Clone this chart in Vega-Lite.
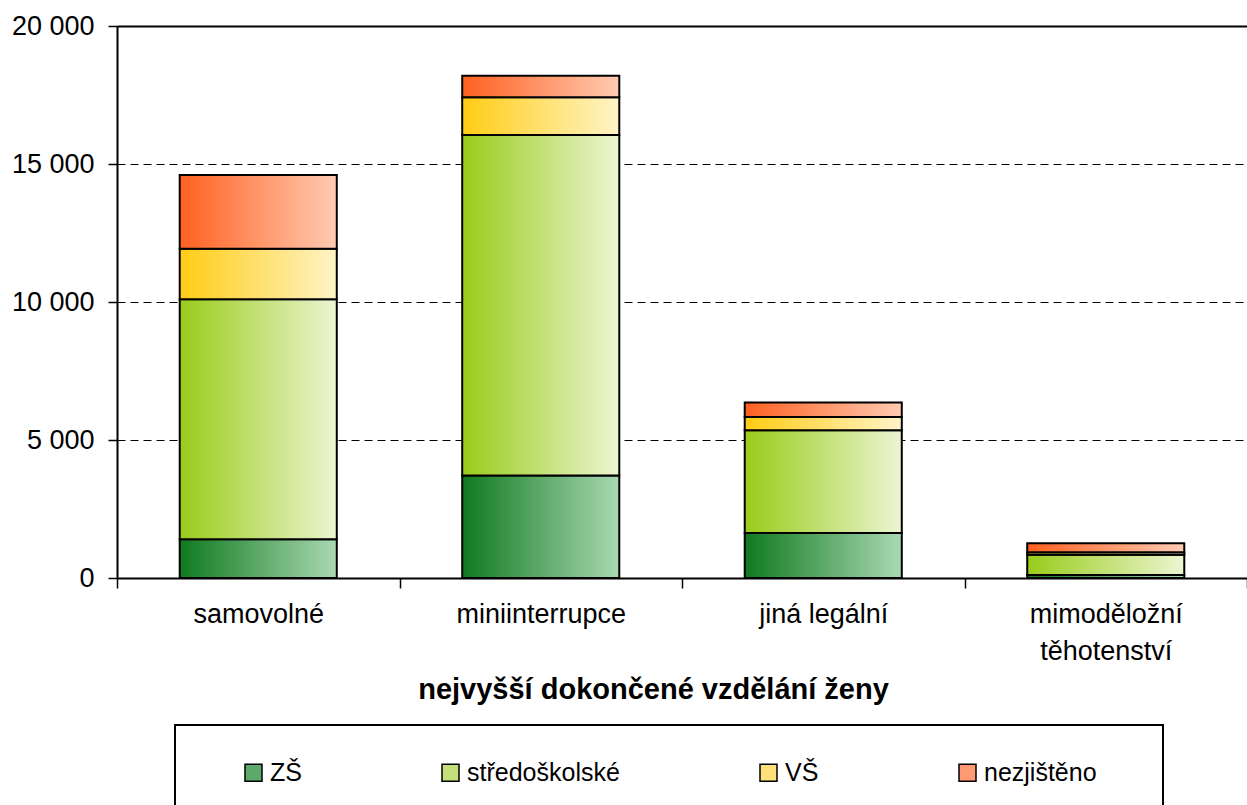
{
  "$schema": "https://vega.github.io/schema/vega-lite/v6.json",
  "width": 1130,
  "height": 552,
  "autosize": "none",
  "padding": {"left": 117, "top": 26, "right": 0, "bottom": 227},
  "background": "white",
  "config": {
    "view": {"stroke": null},
    "font": "Liberation Sans",
    "legend": {"strokeColor": "black", "strokeWidth": 2}
  },
  "data": {
    "values": [
      {"typ": "samovolné", "vzdelani": "ZŠ", "pocet": 1403},
      {"typ": "samovolné", "vzdelani": "středoškolské", "pocet": 8700},
      {"typ": "samovolné", "vzdelani": "VŠ", "pocet": 1824},
      {"typ": "samovolné", "vzdelani": "nezjištěno", "pocet": 2671},
      {"typ": "miniinterrupce", "vzdelani": "ZŠ", "pocet": 3712},
      {"typ": "miniinterrupce", "vzdelani": "středoškolské", "pocet": 12337},
      {"typ": "miniinterrupce", "vzdelani": "VŠ", "pocet": 1366},
      {"typ": "miniinterrupce", "vzdelani": "nezjištěno", "pocet": 783},
      {"typ": "jiná legální", "vzdelani": "ZŠ", "pocet": 1631},
      {"typ": "jiná legální", "vzdelani": "středoškolské", "pocet": 3723},
      {"typ": "jiná legální", "vzdelani": "VŠ", "pocet": 483},
      {"typ": "jiná legální", "vzdelani": "nezjištěno", "pocet": 522},
      {"typ": "mimoděložní těhotenství", "vzdelani": "ZŠ", "pocet": 109},
      {"typ": "mimoděložní těhotenství", "vzdelani": "středoškolské", "pocet": 736},
      {"typ": "mimoděložní těhotenství", "vzdelani": "VŠ", "pocet": 87},
      {"typ": "mimoděložní těhotenství", "vzdelani": "nezjištěno", "pocet": 326}
    ]
  },
  "transform": [
    {"calculate": "indexof(['ZŠ', 'středoškolské', 'VŠ', 'nezjištěno'], datum.vzdelani)", "as": "poradi"}
  ],
  "encoding": {
    "x": {
      "field": "typ",
      "type": "nominal",
      "sort": ["samovolné", "miniinterrupce", "jiná legální", "mimoděložní těhotenství"],
      "scale": {"paddingInner": 0, "paddingOuter": 0},
      "axis": {
        "title": "nejvyšší dokončené vzdělání ženy",
        "titleFontSize": 29,
        "titleFontWeight": "bold",
        "titlePadding": 11,
        "titleColor": "black",
        "titleX": 536,
        "labelAngle": 0,
        "labelFontSize": 27,
        "labelPadding": 13,
        "labelColor": "black",
        "labelLineHeight": 37,
        "labelExpr": "datum.label == 'mimoděložní těhotenství' ? ['mimoděložní', 'těhotenství'] : datum.label",
        "tickBand": "extent",
        "tickSize": 10,
        "tickWidth": 1.5,
        "tickColor": "black",
        "domainColor": "black",
        "domainWidth": 2,
        "grid": false
      }
    },
    "y": {
      "field": "pocet",
      "type": "quantitative",
      "stack": "zero",
      "scale": {"domain": [0, 20000]},
      "axis": {
        "title": null,
        "values": [0, 5000, 10000, 15000, 20000],
        "labelExpr": "replace(format(datum.value, ','), ',', ' ')",
        "labelFontSize": 27,
        "labelPadding": 14,
        "labelColor": "black",
        "tickSize": 9,
        "tickWidth": 1.5,
        "tickColor": "black",
        "domainColor": "black",
        "domainWidth": 2,
        "gridColor": "black",
        "gridDash": {"condition": {"test": "datum.value == 20000", "value": []}, "value": [8, 5]},
        "gridWidth": {"condition": {"test": "datum.value == 20000", "value": 2}, "value": 1}
      }
    },
    "order": {"field": "poradi", "type": "quantitative"},
    "detail": {"field": "vzdelani", "type": "nominal"}
  },
  "layer": [
    {
      "mark": {"type": "bar", "width": {"band": 0.556}},
      "encoding": {
        "fill": {
          "field": "vzdelani",
          "type": "nominal",
          "sort": ["ZŠ", "středoškolské", "VŠ", "nezjištěno"],
          "scale": {
            "domain": ["ZŠ", "středoškolské", "VŠ", "nezjištěno"],
            "range": ["#5da86a", "#c4e07a", "#ffe07a", "#ff9a72"]
          },
          "legend": {
            "title": " ",
            "titleOrient": "right",
            "titlePadding": 31,
            "orient": "none",
            "legendX": 58,
            "legendY": 699,
            "direction": "horizontal",
            "columns": 4,
            "columnPadding": 105,
            "symbolType": "square",
            "symbolSize": 289,
            "symbolStrokeColor": "black",
            "symbolStrokeWidth": 1.5,
            "symbolOffset": 31,
            "labelFontSize": 25,
            "labelColor": "black",
            "labelOffset": 4,
            "padding": 35
          }
        }
      }
    },
    {
      "mark": {"type": "bar", "stroke": "black", "strokeWidth": 2, "width": {"band": 0.556}},
      "encoding": {
        "fill": {
          "condition": [
            {"test": "datum.vzdelani == 'ZŠ'", "value": {"gradient": "linear", "x1": 0, "y1": 0, "x2": 1, "y2": 0, "stops": [{"offset": 0, "color": "#0f7a1f"}, {"offset": 1, "color": "#aad8b2"}]}},
            {"test": "datum.vzdelani == 'středoškolské'", "value": {"gradient": "linear", "x1": 0, "y1": 0, "x2": 1, "y2": 0, "stops": [{"offset": 0, "color": "#99cc1a"}, {"offset": 1, "color": "#ecf5d2"}]}},
            {"test": "datum.vzdelani == 'VŠ'", "value": {"gradient": "linear", "x1": 0, "y1": 0, "x2": 1, "y2": 0, "stops": [{"offset": 0, "color": "#ffcc14"}, {"offset": 1, "color": "#fff4c8"}]}}
          ],
          "value": {"gradient": "linear", "x1": 0, "y1": 0, "x2": 1, "y2": 0, "stops": [{"offset": 0, "color": "#ff6020"}, {"offset": 1, "color": "#ffcbb2"}]}
        }
      }
    }
  ]
}
